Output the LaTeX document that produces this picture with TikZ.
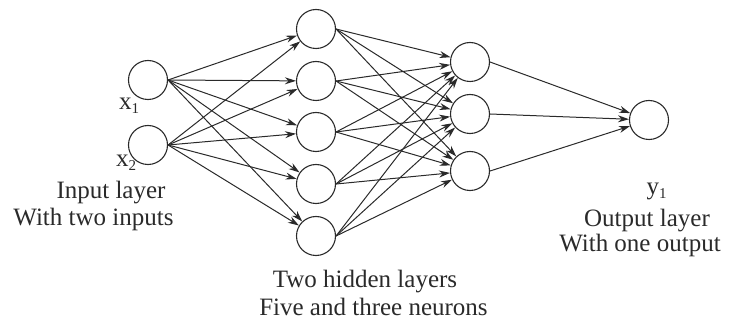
\documentclass[tikz,border=0pt]{standalone}
\usepackage{fontspec}
\setmainfont{Liberation Serif}
\usetikzlibrary{arrows.meta}
\definecolor{ink}{HTML}{2A2A2A}
\newcommand{\mysub}[1]{\raisebox{-4pt}{\fontsize{15}{15}\selectfont #1}}
\begin{document}
\begin{tikzpicture}[x=1pt,y=-1pt,
  neuron/.style={circle,draw=ink,line width=1.1pt,minimum size=39pt,inner sep=0pt},
  conn/.style={draw=ink,line width=1pt,-{Stealth[length=11pt,width=7pt]}},
  lbl/.style={anchor=base,text=ink,font=\fontsize{25}{27}\selectfont,inner sep=0pt}]
\useasboundingbox (0,0) rectangle (729,323);
% input layer
\node[neuron] (i1) at (148,80) {};
\node[neuron] (i2) at (148,145) {};
% hidden layer 1
\node[neuron] (a1) at (316,29) {};
\node[neuron] (a2) at (316,81) {};
\node[neuron] (a3) at (316,132) {};
\node[neuron] (a4) at (316,184) {};
\node[neuron] (a5) at (316,236) {};
% hidden layer 2
\node[neuron] (b1) at (470,62) {};
\node[neuron] (b2) at (470,114) {};
\node[neuron] (b3) at (470,171) {};
% output
\node[neuron] (o1) at (649,120) {};
% connectors
\foreach \s in {i1,i2}
  \foreach \t in {a1,a2,a3,a4,a5}
    \draw[conn] (\s.east) -- (\t);
\foreach \s in {a1,a2,a3,a4,a5}
  \foreach \t in {b1,b2,b3}
    \draw[conn] (\s.east) -- (\t);
\foreach \s in {b1,b2,b3}
  \draw[conn] (\s.east) -- (o1);
% labels
\node[lbl] (x1) at (129,110) {x\mysub{1}};
\node[lbl] (x2) at (126,167) {x\mysub{2}};
\node[lbl] (in1) at (111,199) {Input layer};
\node[lbl] (in2) at (93.5,226) {With two inputs};
\node[lbl] (h1) at (365,288) {Two hidden layers};
\node[lbl] (h2) at (373.5,316) {Five and three neurons};
\node[lbl] (y1) at (656.5,195) {y\mysub{1}};
\node[lbl] (out1) at (647,227) {Output layer};
\node[lbl] (out2) at (640,252) {With one output};
\end{tikzpicture}
\end{document}
